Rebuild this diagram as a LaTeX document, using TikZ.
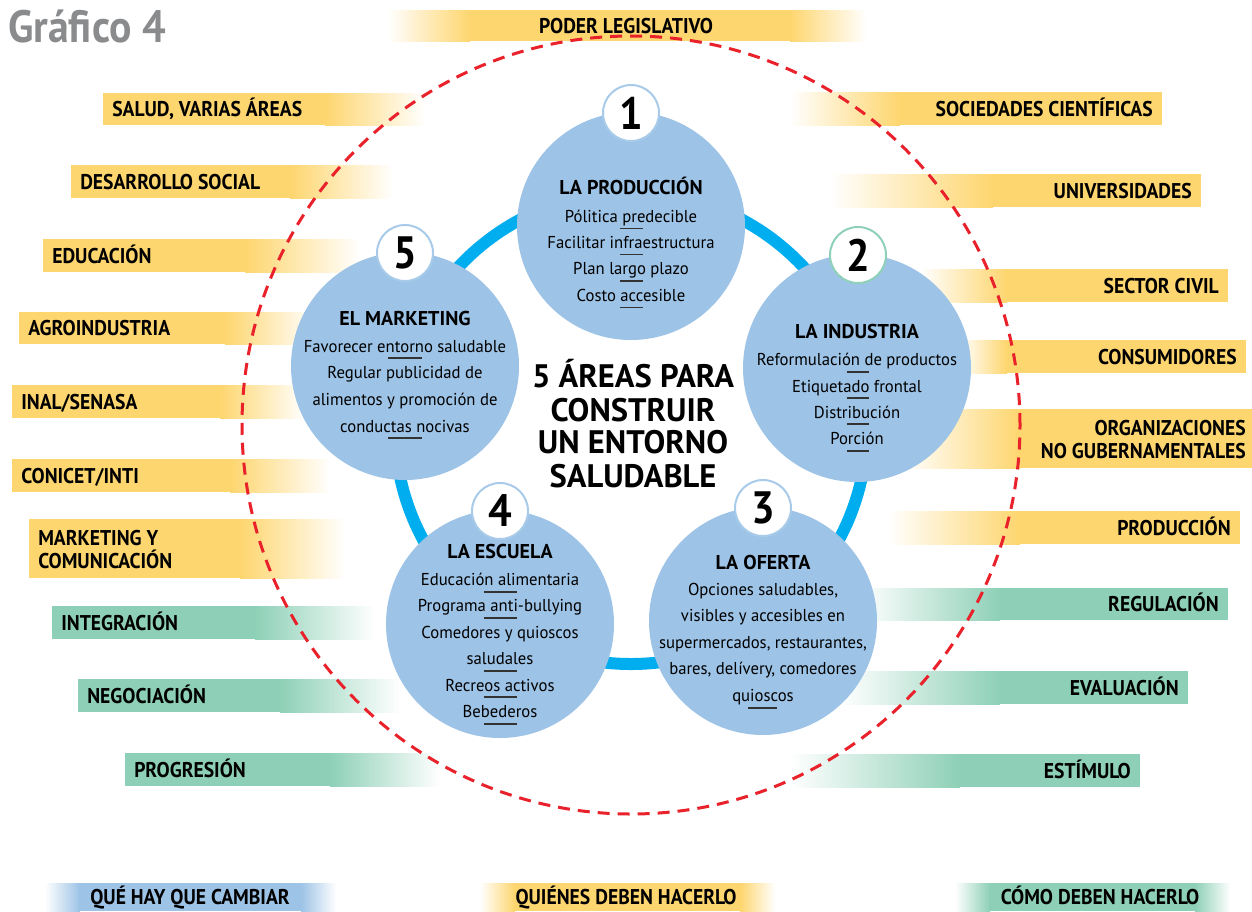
\documentclass[tikz,border=0pt]{standalone}
\usepackage{fontspec}
\setmainfont{PT Sans}[FakeStretch=0.92]
\newfontfamily\widefont{PT Sans}[FakeStretch=1.0]
\newfontfamily\bodyfont{PT Sans}[FakeStretch=0.97]
\definecolor{barY}{HTML}{FED66F}
\definecolor{barG}{HTML}{8ED0B7}
\definecolor{barL}{HTML}{9DC3E6}
\definecolor{cblue}{HTML}{9DC3E6}
\definecolor{ringc}{HTML}{00AEEF}
\definecolor{redd}{HTML}{E8212B}
\definecolor{badgeb}{HTML}{A9CBEA}
\definecolor{badgeg}{HTML}{8FD1B8}
\definecolor{sepgray}{HTML}{333333}
\definecolor{titlegray}{HTML}{8A8B8D}
\tikzset{
  bartext/.style={font=\bfseries\fontsize{16}{18}\selectfont, inner sep=0pt, text=black},
  bigc/.style={circle, fill=cblue, minimum size=171pt, inner sep=0pt},
  badge/.style={circle, fill=white, draw=badgeb, line width=1.5pt, minimum size=42pt, inner sep=0pt, font=\bfseries\fontsize{34}{34}\selectfont},
  ctitle/.style={font=\widefont\bfseries\fontsize{15}{17}\selectfont, anchor=base, inner sep=0pt},
  cline/.style={font=\bodyfont\fontsize{12.9}{15}\selectfont, anchor=base, inner sep=0pt},
  centertext/.style={font=\widefont\bfseries\fontsize{24.4}{26}\selectfont, anchor=base, inner sep=0pt},
  sep/.style={draw=sepgray, line width=1.3pt},
}
\newcommand\LeftBar[8]{%
  \fill[fill=#7] (#2,#3) rectangle (#5+1,#4);
  \shade[left color=#7, right color=white] (#5,#3) rectangle (#6,#4);
  \node[bartext, anchor=base west] (#1) at (#2+9,{(#3+#4)/2+7.5}) {#8};
}
\newcommand\RightBar[8]{%
  \shade[left color=white, right color=#7] (#6,#3) rectangle (#5,#4);
  \fill[fill=#7] (#5-1,#3) rectangle (#2,#4);
  \node[bartext, anchor=base east] (#1) at (#2-9,{(#3+#4)/2+7.5}) {#8};
}
\newcommand\MidBar[8]{% name, x0, x1, y0, y1, color, text, textx
  \shade[left color=white, right color=#6] (#2,#4) rectangle (#2+35,#5);
  \fill[fill=#6] (#2+34,#4) rectangle (#3-34,#5);
  \shade[left color=#6, right color=white] (#3-35,#4) rectangle (#3,#5);
  \node[bartext, anchor=base] (#1) at (#8,{(#4+#5)/2+7.5}) {#7};
}
\newcommand\SepDash[3]{\draw[sep] (#1-#3/2,#2) -- (#1+#3/2,#2);}
\begin{document}
\begin{tikzpicture}[x=0.75pt,y=-0.75pt]
\useasboundingbox (0,0) rectangle (1252,911);
\fill[white] (0,0) rectangle (1252,911);

% title
\node[anchor=base west, inner sep=0pt, text=titlegray, font=\bfseries\fontsize{34}{36}\selectfont] (titulo) at (8,42) {Gráfico 4};

% top bar
\shade[left color=white, right color=barY] (388,10) rectangle (470,41);
\fill[fill=barY] (469,10) rectangle (791,41);
\shade[left color=barY, right color=white] (790,10) rectangle (866,41);
\node[bartext, anchor=base] (poder) at (626,33) {PODER LEGISLATIVO};

% left bars
\LeftBar{salud}{103}{93}{125}{325}{425}{barY}{SALUD, VARIAS ÁREAS}
\LeftBar{desarrollo}{71}{165}{198}{290}{393}{barY}{DESARROLLO SOCIAL}
\LeftBar{educacion}{43}{239}{272}{245}{360}{barY}{EDUCACIÓN}
\LeftBar{agro}{19}{312}{344}{225}{315}{barY}{AGROINDUSTRIA}
\LeftBar{inal}{12}{385}{418}{220}{305}{barY}{INAL/SENASA}
\LeftBar{conicet}{12}{459}{492}{230}{330}{barY}{CONICET/INTI}
\fill[fill=barY] (29,519) rectangle (241,578);
\shade[left color=barY, right color=white] (240,519) rectangle (345,578);
\node[bartext, anchor=base west] (mkt1) at (38,545) {MARKETING Y};
\node[bartext, anchor=base west] (mkt2) at (38,568) {COMUNICACIÓN};
\LeftBar{integracion}{52}{606}{639}{255}{375}{barG}{INTEGRACIÓN}
\LeftBar{negociacion}{78}{679}{712}{280}{400}{barG}{NEGOCIACIÓN}
\LeftBar{progresion}{125}{753}{786}{330}{440}{barG}{PROGRESIÓN}

% right bars
\RightBar{sociedades}{1162}{92}{125}{900}{790}{barY}{SOCIEDADES CIENTÍFICAS}
\RightBar{universidades}{1201}{174}{207}{993}{830}{barY}{UNIVERSIDADES}
\RightBar{sector}{1228}{269}{302}{1007}{920}{barY}{SECTOR CIVIL}
\RightBar{consumidores}{1246}{340}{373}{1007}{960}{barY}{CONSUMIDORES}
\shade[left color=white, right color=barY] (903,409) rectangle (1020,468);
\fill[fill=barY] (1019,409) rectangle (1252,468);
\node[bartext, anchor=base east] (ong1) at (1246,435) {ORGANIZACIONES};
\node[bartext, anchor=base east] (ong2) at (1246,458) {NO GUBERNAMENTALES};
\RightBar{produccion}{1240}{511}{544}{1020}{887}{barY}{PRODUCCIÓN}
\RightBar{regulacion}{1228}{588}{620}{1000}{860}{barG}{REGULACIÓN}
\RightBar{evaluacion}{1188}{671}{704}{1000}{840}{barG}{EVALUACIÓN}
\RightBar{estimulo}{1140}{754}{787}{960}{790}{barG}{ESTÍMULO}

% legend
\MidBar{leg1}{45}{336}{883}{911}{barL}{QUÉ HAY QUE CAMBIAR}{190}
\MidBar{leg2}{480}{775}{883}{911}{barY}{QUIÉNES DEBEN HACERLO}{626}
\MidBar{leg3}{955}{1230}{883}{911}{barG}{CÓMO DEBEN HACERLO}{1100}

% dashed circle
\node[circle, draw=redd, line width=2.25pt, dash pattern=on 9pt off 6pt, minimum size=583.5pt, inner sep=0pt] (dashc) at (631,425) {};

% ring
\node[circle, draw=ringc, line width=9pt, minimum size=354pt, inner sep=0pt] (ring) at (631,428) {};

% big circles
\node[bigc] (c1) at (631,226) {};
\node[bigc] (c2) at (857,368) {};
\node[bigc] (c3) at (763,621) {};
\node[bigc] (c4) at (500,624) {};
\node[bigc] (c5) at (405,366) {};

% badges
\node[badge] (b1) at (631,113) {1};
\node[badge, draw=badgeg] (b2) at (858,255) {2};
\node[badge] (b3) at (763,508) {3};
\node[badge] (b4) at (500,511) {4};
\node[badge] (b5) at (405,253) {5};

% center text
\node[centertext] (m1) at (633,387) {5 ÁREAS PARA};
\node[centertext] (m2) at (633,421) {CONSTRUIR};
\node[centertext] (m3) at (633,453) {UN ENTORNO};
\node[centertext] (m4) at (633,487) {SALUDABLE};

% circle 1
\node[ctitle] (c1t) at (631,194) {LA PRODUCCIÓN};
\node[cline] (c1a) at (631,222) {Pólitica predecible};
\node[cline] (c1b) at (631,248) {Facilitar infraestructura};
\node[cline] (c1c) at (631,274.5) {Plan largo plazo};
\node[cline] (c1d) at (631,301) {Costo accesible};
\SepDash{631.5}{228.5}{23}
\SepDash{631.5}{254.5}{23}
\SepDash{631.5}{281}{23}
\SepDash{631.5}{307.5}{23}

% circle 2
\node[ctitle] (c2t) at (857,338) {LA INDUSTRIA};
\node[cline] (c2a) at (857,365) {Reformulación de productos};
\node[cline] (c2b) at (857,392) {Etiquetado frontal};
\node[cline] (c2c) at (857,418) {Distribución};
\node[cline] (c2d) at (857,444) {Porción};
\SepDash{857.5}{372}{22}
\SepDash{857.5}{398}{22}
\SepDash{857.5}{424}{22}
\SepDash{857.5}{451}{22}

% circle 3
\node[ctitle] (c3t) at (763,569) {LA OFERTA};
\node[cline] (c3a) at (763,595) {Opciones saludables,};
\node[cline] (c3b) at (763,621) {visibles y accesibles en};
\node[cline] (c3c) at (763,648) {supermercados, restaurantes,};
\node[cline] (c3d) at (763,674) {bares, delívery, comedores};
\node[cline] (c3e) at (763,701) {quioscos};
\SepDash{762.5}{708}{29}

% circle 4
\node[ctitle] (c4t) at (500,558) {LA ESCUELA};
\node[cline] (c4a) at (500,585) {Educación alimentaria};
\node[cline] (c4b) at (500,611) {Programa anti-bullying};
\node[cline] (c4c) at (500,638) {Comedores y quioscos};
\node[cline] (c4d) at (500,664) {saludales};
\node[cline] (c4e) at (500,691) {Recreos activos};
\node[cline] (c4f) at (500,717) {Bebederos};
\SepDash{500}{592}{33}
\SepDash{500}{618}{33}
\SepDash{500}{671}{33}
\SepDash{500}{697}{33}
\SepDash{500}{724}{33}

% circle 5
\node[ctitle] (c5t) at (405,325) {EL MARKETING};
\node[cline] (c5a) at (405,352) {Favorecer entorno saludable};
\node[cline] (c5b) at (405,378) {Regular publicidad de};
\node[cline] (c5c) at (405,405) {alimentos y promoción de};
\node[cline] (c5d) at (405,432) {conductas nocivas};
\SepDash{405}{358}{34}
\SepDash{405}{438}{34}
\end{tikzpicture}
\end{document}
